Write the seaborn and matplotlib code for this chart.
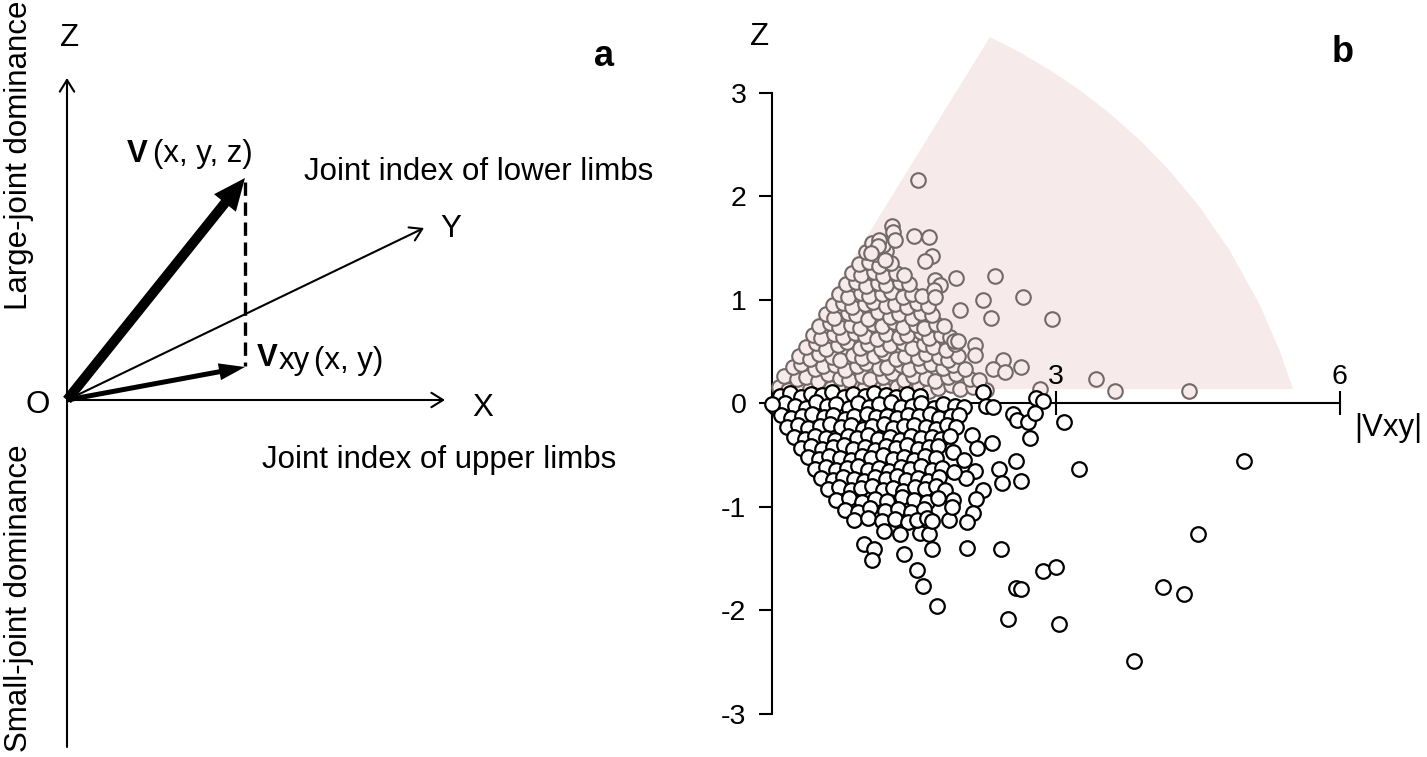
import matplotlib
matplotlib.use("Agg")
import matplotlib.pyplot as plt
import seaborn as sns
import pandas as pd

sns.set_theme(style="white")
plt.rcParams["font.family"] = ["Liberation Sans", "DejaVu Sans"]
plt.rcParams["axes.unicode_minus"] = False
for key in ["text.color", "axes.labelcolor", "xtick.color", "ytick.color", "axes.edgecolor"]:
    plt.rcParams[key] = "black"

# ---------------- data (panel b) ----------------
# shaded sector outline (|Vxy|, Z)
sector_x = [0.01, 2.304, 2.622, 2.939, 3.256, 3.573, 3.890, 4.207, 4.524, 4.841, 5.159, 5.370, 5.507]
sector_z = [0.14, 3.540, 3.392, 3.221, 3.025, 2.801, 2.543, 2.244, 1.895, 1.475, 0.950, 0.501, 0.140]

# large-joint dominant subjects (grey, inside sector)
upper_x = [
    0.07, 0.17, 0.29, 0.40, 0.52, 0.62, 0.75, 0.85, 0.97, 1.09, 1.19, 1.32, 1.42, 1.55, 1.66, 1.76, 1.89, 1.99, 2.12, 2.26,
    0.13, 0.26, 0.36, 0.49, 0.59, 0.72, 0.81, 0.95, 1.04, 1.17, 1.27, 1.40, 1.49, 1.63, 1.72, 1.86, 1.95, 2.09, 2.19,
    0.22, 0.31, 0.45, 0.54, 0.67, 0.77, 0.90, 0.99, 1.13, 1.22, 1.36, 1.45, 1.58, 1.68, 1.81, 1.91, 2.04,
    0.29, 0.40, 0.50, 0.63, 0.72, 0.86, 0.95, 1.08, 1.18, 1.31, 1.41, 1.54, 1.63, 1.77, 1.86, 1.97,
    0.36, 0.47, 0.57, 0.70, 0.79, 0.93, 1.02, 1.15, 1.25, 1.38, 1.48, 1.61, 1.70, 1.84, 1.93,
    0.43, 0.52, 0.66, 0.75, 0.88, 0.98, 1.11, 1.20, 1.34, 1.43, 1.57, 1.66, 1.79, 1.88,
    0.50, 0.61, 0.71, 0.84, 0.93, 1.07, 1.16, 1.29, 1.39, 1.52, 1.61, 1.73, 1.82,
    0.57, 0.66, 0.80, 0.89, 1.02, 1.12, 1.25, 1.34, 1.48, 1.57, 1.69,
    0.64, 0.75, 0.85, 0.98, 1.07, 1.21, 1.30, 1.43, 1.53, 1.65,
    0.71, 0.80, 0.94, 1.03, 1.16, 1.26, 1.39, 1.48, 1.59,
    0.78, 0.89, 0.99, 1.12, 1.21, 1.35, 1.45,
    0.85, 0.94, 1.08, 1.17, 1.31, 1.40,
    0.92, 1.03, 1.13, 1.26,
    0.99, 1.10, 1.21,
    1.06, 1.17,
    1.54, 1.27, 1.28, 1.30, 1.50, 1.66, 1.13, 1.12, 1.69, 1.62, 1.05, 1.19, 1.72, 1.78, 1.71, 1.72,
    1.95, 2.36, 2.65, 2.23, 1.99, 2.32, 2.96, 1.92, 1.97, 2.15, 2.15, 2.44, 2.34, 2.46, 2.63,
    3.43, 3.63, 4.41, 2.83,
]
upper_z = [
    0.16, 0.13, 0.17, 0.14, 0.18, 0.15, 0.12, 0.17, 0.14, 0.18, 0.13, 0.16, 0.14, 0.17, 0.12, 0.15, 0.18, 0.14, 0.16, 0.13,
    0.27, 0.24, 0.26, 0.22, 0.28, 0.25, 0.23, 0.27, 0.24, 0.26, 0.29, 0.23, 0.27, 0.25, 0.22, 0.26, 0.28, 0.24, 0.23,
    0.35, 0.38, 0.33, 0.36, 0.37, 0.32, 0.36, 0.39, 0.34, 0.35, 0.37, 0.33, 0.36, 0.38, 0.34, 0.37, 0.33,
    0.46, 0.43, 0.48, 0.45, 0.42, 0.47, 0.44, 0.46, 0.49, 0.43, 0.46, 0.44, 0.48, 0.45, 0.42, 0.46,
    0.55, 0.58, 0.53, 0.56, 0.59, 0.54, 0.57, 0.53, 0.56, 0.58, 0.54, 0.57, 0.55, 0.52, 0.57,
    0.66, 0.63, 0.67, 0.64, 0.68, 0.65, 0.62, 0.67, 0.64, 0.66, 0.69, 0.63, 0.66, 0.64,
    0.75, 0.78, 0.74, 0.76, 0.73, 0.77, 0.75, 0.79, 0.74, 0.76, 0.73, 0.77, 0.75,
    0.86, 0.83, 0.87, 0.85, 0.82, 0.88, 0.84, 0.86, 0.83, 0.87, 0.85,
    0.95, 0.97, 0.93, 0.96, 0.98, 0.94, 0.96, 0.93, 0.97, 0.94,
    1.06, 1.03, 1.07, 1.04, 1.06, 1.08, 1.03, 1.06, 1.04,
    1.15, 1.17, 1.13, 1.16, 1.14, 1.17, 1.15,
    1.26, 1.24, 1.27, 1.23, 1.26, 1.24,
    1.35, 1.37, 1.33, 1.36,
    1.46, 1.44, 1.47,
    1.55, 1.53,
    2.16, 1.71, 1.66, 1.58, 1.62, 1.61, 1.58, 1.52, 1.42, 1.38, 1.45, 1.39, 1.19, 1.14, 1.10, 1.03,
    1.21, 1.23, 1.03, 1.00, 0.90, 0.83, 0.82, 0.60, 0.60, 0.56, 0.47, 0.42, 0.33, 0.30, 0.35,
    0.24, 0.12, 0.12, 0.14,
]

# small-joint dominant / other subjects (black outline)
lower_x = [
    0.08, 0.19, 0.31, 0.41, 0.53, 0.63, 0.76, 0.86, 0.98, 1.08, 1.21, 1.31, 1.43, 1.56,
    0.03, 0.14, 0.24, 0.36, 0.46, 0.58, 0.68, 0.81, 0.91, 1.03, 1.13, 1.26, 1.36, 1.48, 1.58, 1.71, 1.81, 1.93, 2.03,
    0.10, 0.20, 0.32, 0.42, 0.55, 0.65, 0.77, 0.87, 1.00, 1.10, 1.22, 1.32, 1.44, 1.55, 1.67, 1.77, 1.89, 1.98,
    0.16, 0.28, 0.38, 0.51, 0.61, 0.73, 0.83, 0.96, 1.06, 1.18, 1.28, 1.40, 1.50, 1.63, 1.73, 1.85, 1.94,
    0.23, 0.35, 0.45, 0.57, 0.67, 0.80, 0.90, 1.02, 1.12, 1.25, 1.35, 1.47, 1.57, 1.69, 1.79, 1.88,
    0.31, 0.41, 0.53, 0.64, 0.76, 0.86, 0.98, 1.09, 1.21, 1.31, 1.43, 1.54, 1.66, 1.76,
    0.38, 0.50, 0.60, 0.72, 0.83, 0.95, 1.05, 1.17, 1.28, 1.40, 1.50, 1.62, 1.73,
    0.45, 0.57, 0.68, 0.79, 0.91, 1.01, 1.13, 1.24, 1.36, 1.46, 1.58, 1.69, 1.80,
    0.52, 0.64, 0.75, 0.87, 0.97, 1.09, 1.20, 1.32, 1.42, 1.54, 1.65, 1.77,
    0.59, 0.71, 0.83, 0.94, 1.06, 1.17, 1.28, 1.39, 1.51, 1.62, 1.73, 1.83,
    0.68, 0.81, 0.95, 1.09, 1.22, 1.37, 1.50, 1.64, 1.76,
    0.77, 0.91, 1.04, 1.19, 1.33, 1.47, 1.61,
    0.87, 1.01, 1.16, 1.30, 1.44,
    0.00, 2.23, 2.26, 2.34, 2.55, 2.59, 2.71, 2.79, 2.87, 2.78, 3.09, 2.73, 3.25, 2.11, 2.17, 2.33,
    2.58, 2.40, 2.63, 2.43, 2.15, 2.05, 2.23, 2.16, 2.13, 2.06, 1.91, 1.92, 2.03, 1.87, 1.91, 1.90,
    2.06, 2.42, 1.69, 1.40, 1.18, 1.35, 1.56, 1.66, 0.97, 1.08, 1.06, 1.53, 1.60, 1.74, 2.87, 3.00,
    2.58, 2.63, 2.50, 3.03, 1.53, 1.64, 1.69, 4.99, 4.50, 4.13, 4.36, 3.83,
]
lower_z = [
    0.07, 0.10, 0.06, 0.09, 0.08, 0.11, 0.06, 0.09, 0.07, 0.10, 0.08, 0.06, 0.09, 0.07,
    -0.03, 0.00, -0.02, -0.04, 0.01, -0.02, -0.01, -0.04, 0.00, -0.03, -0.01, 0.01, -0.03, -0.02, 0.00, -0.04, -0.01, -0.02, -0.03,
    -0.11, -0.14, -0.12, -0.10, -0.13, -0.11, -0.15, -0.12, -0.10, -0.13, -0.12, -0.14, -0.11, -0.12, -0.10, -0.14, -0.12, -0.11,
    -0.23, -0.21, -0.24, -0.22, -0.20, -0.23, -0.21, -0.25, -0.22, -0.20, -0.24, -0.22, -0.21, -0.23, -0.25, -0.21, -0.23,
    -0.32, -0.34, -0.31, -0.33, -0.35, -0.31, -0.33, -0.30, -0.34, -0.32, -0.35, -0.31, -0.33, -0.32, -0.34, -0.31,
    -0.43, -0.41, -0.44, -0.42, -0.40, -0.44, -0.42, -0.45, -0.41, -0.43, -0.40, -0.44, -0.42, -0.41,
    -0.52, -0.54, -0.51, -0.53, -0.55, -0.51, -0.53, -0.50, -0.54, -0.52, -0.55, -0.51, -0.53,
    -0.63, -0.61, -0.64, -0.62, -0.60, -0.64, -0.62, -0.65, -0.61, -0.63, -0.60, -0.64, -0.62,
    -0.72, -0.74, -0.71, -0.73, -0.75, -0.71, -0.73, -0.70, -0.74, -0.72, -0.75, -0.71,
    -0.83, -0.81, -0.84, -0.82, -0.80, -0.84, -0.82, -0.85, -0.81, -0.83, -0.80, -0.84,
    -0.93, -0.91, -0.95, -0.92, -0.94, -0.90, -0.93, -0.95, -0.91,
    -1.03, -1.05, -1.01, -1.04, -1.02, -1.05, -1.02,
    -1.13, -1.11, -1.14, -1.12, -1.15,
    -0.01, 0.11, -0.02, -0.03, -0.10, -0.16, -0.18, 0.05, 0.02, -0.09, -0.18, -0.33, -0.63, -0.30, -0.43, -0.38,
    -0.56, -0.63, -0.75, -0.77, -0.65, -0.72, -0.84, -0.92, -1.06, -1.15, -0.47, -0.66, -0.55, -1.13, -0.93, -1.00,
    -1.40, -1.41, -1.41, -1.45, -1.23, -1.26, -1.25, -1.26, -1.36, -1.41, -1.51, -1.61, -1.76, -1.96, -1.62, -1.58,
    -1.78, -1.79, -2.08, -2.13, -1.13, -1.11, -1.14, -0.56, -1.26, -1.77, -1.84, -2.49,
]

y_ticks = [-3, -2, -1, 0, 1, 2, 3]
x_ticks = [3, 6]

SECTOR_COLOR = "#f6eaea"
GREY_EDGE = "#746969"

# ---------------- figure ----------------
fig = plt.figure(figsize=(14.27, 7.57), dpi=100)

# ---- panel a : schematic, pixel-like coordinates ----
ax_a = fig.add_axes([0, 0, 700 / 1427, 1])
ax_a.set_xlim(0, 700)
ax_a.set_ylim(757, 0)
ax_a.axis("off")

FS = 22.5
open_head = "->,head_length=0.42,head_width=0.26"
for (x0, y0, x1, y1) in [(67, 747, 67, 78), (67, 400, 445, 400), (67, 400, 424, 228)]:
    ax_a.annotate("", xy=(x1, y1), xytext=(x0, y0),
                  arrowprops=dict(arrowstyle=open_head, lw=1.5, color="black",
                                  shrinkA=0, shrinkB=0, mutation_scale=20))

# V vector (thick) and Vxy vector
ax_a.arrow(67, 400, 245 - 67, 178 - 400, width=10, head_width=28, head_length=32,
           length_includes_head=True, color="black", lw=0)
ax_a.arrow(67, 400, 245 - 67, 367 - 400, width=5, head_width=17, head_length=26,
           length_includes_head=True, color="black", lw=0)
ax_a.plot([245, 245], [182, 366], color="black", lw=2.4, ls=(0, (4, 2)))

ax_a.text(70, 38, "Z", fontsize=FS, ha="center", va="center")
ax_a.text(38, 405, "O", fontsize=FS, ha="center", va="center")
ax_a.text(483, 408, "X", fontsize=FS, ha="center", va="center")
ax_a.text(451, 229, "Y", fontsize=FS, ha="center", va="center")
ax_a.text(604, 57, "a", fontsize=26, fontweight="bold", ha="center", va="center")
ax_a.text(304, 172, "Joint index of lower limbs", fontsize=FS, ha="left", va="center")
ax_a.text(262, 460, "Joint index of upper limbs", fontsize=FS, ha="left", va="center")
ax_a.text(19, 155, "Large-joint dominance", fontsize=FS, rotation=90, ha="center", va="center")
ax_a.text(19, 598, "Small-joint dominance", fontsize=FS, rotation=90, ha="center", va="center")
ax_a.text(127, 162, "V", fontsize=FS, fontweight="bold", ha="left", va="baseline")
ax_a.text(153, 162, "(x, y, z)", fontsize=FS, ha="left", va="baseline")
ax_a.text(257, 366, "V", fontsize=FS, fontweight="bold", ha="left", va="baseline")
ax_a.text(279, 369, "xy", fontsize=FS, ha="left", va="baseline")
ax_a.text(314, 369, "(x, y)", fontsize=FS, ha="left", va="baseline")

# ---- panel b : scatter ----
ax_b = fig.add_axes([724.7 / 1427, 12 / 757, 700 / 1427, 724.5 / 757])
ax_b.set_facecolor("none")
ax_b.fill(sector_x, sector_z, color=SECTOR_COLOR, lw=0, zorder=0)

df_up = pd.DataFrame({"Vxy": upper_x, "Z": upper_z})
df_lo = pd.DataFrame({"Vxy": lower_x, "Z": lower_z})
sns.scatterplot(data=df_up, x="Vxy", y="Z", ax=ax_b, s=110, color=SECTOR_COLOR,
                edgecolor=GREY_EDGE, linewidth=1.5, zorder=3)
sns.scatterplot(data=df_lo, x="Vxy", y="Z", ax=ax_b, s=110, color="white",
                edgecolor="black", linewidth=1.6, zorder=4)

ax_b.set_xlim(-0.5, 6.9)
ax_b.set_ylim(-3.3, 3.7)
ax_b.set_xlabel("")
ax_b.set_ylabel("")
for s in ["right", "bottom"]:
    ax_b.spines[s].set_visible(False)
ax_b.spines["left"].set_position(("data", 0))
ax_b.spines["left"].set_bounds(-3, 3)
ax_b.spines["top"].set_position(("data", 0))
ax_b.spines["top"].set_bounds(0, 6)
for s in ["left", "top"]:
    ax_b.spines[s].set_color("black")
    ax_b.spines[s].set_linewidth(1.5)
    ax_b.spines[s].set_zorder(2)
ax_b.xaxis.set_ticks_position("top")
ax_b.yaxis.set_ticks_position("left")
ax_b.set_xticks(x_ticks)
ax_b.set_xticklabels([str(v) for v in x_ticks])
ax_b.set_yticks(y_ticks)
ax_b.set_yticklabels([str(v) for v in y_ticks])
ax_b.tick_params(axis="x", direction="inout", length=17, width=1.5, labelsize=20.5,
                 pad=1, colors="black")
ax_b.tick_params(axis="y", direction="out", length=9.5, width=1.5, labelsize=20.5,
                 pad=9, colors="black")

ax_b.text(-0.13, 3.54, "Z", fontsize=FS, ha="center", va="center", clip_on=False)
ax_b.text(6.03, 3.39, "b", fontsize=26, fontweight="bold", ha="center", va="center", clip_on=False)
ax_b.text(6.16, -0.24, "|Vxy|", fontsize=FS, ha="left", va="center", clip_on=False)

fig.savefig("out.png", dpi=100)
